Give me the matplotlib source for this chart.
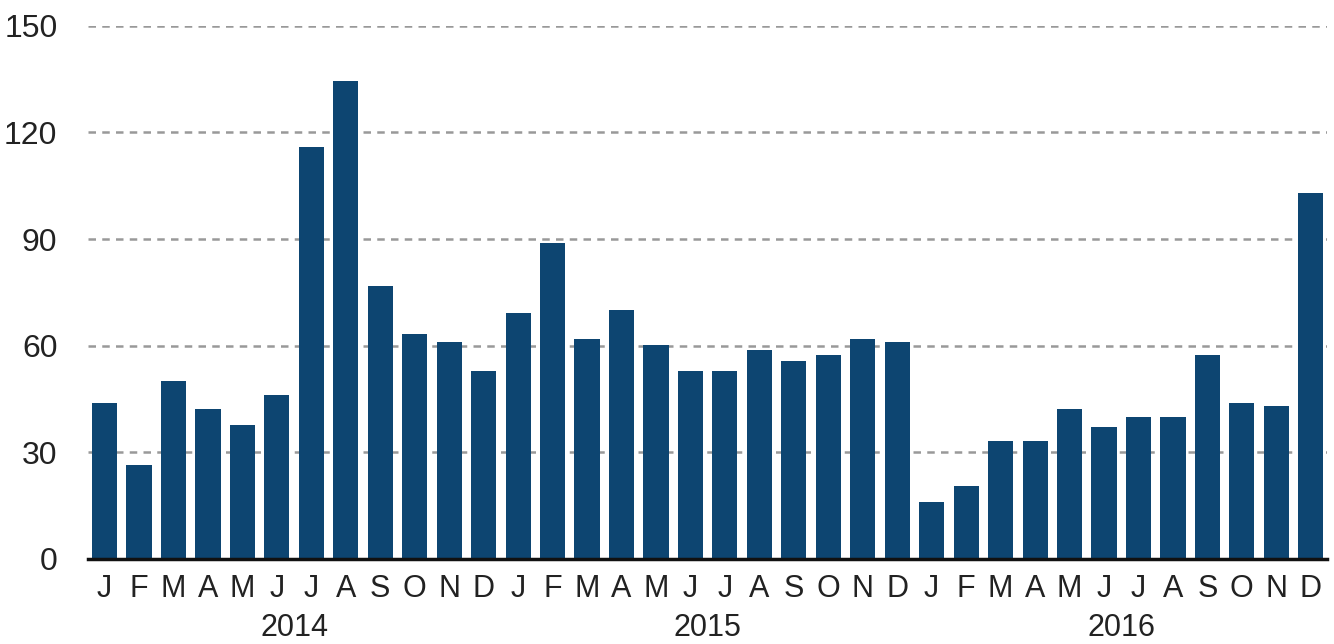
import matplotlib.pyplot as plt

months = ["J", "F", "M", "A", "M", "J", "J", "A", "S", "O", "N", "D"]
years = ["2014", "2015", "2016"]
values = [
    44, 26.5, 50, 42.2, 37.7, 46.2, 116, 134.5, 76.8, 63.3, 61, 52.9,
    69.2, 88.9, 61.9, 70.1, 60.2, 52.9, 52.9, 58.8, 55.7, 57.4, 61.9, 61,
    16, 20.5, 33.2, 33.2, 42.2, 37.2, 40, 40, 57.4, 43.9, 43, 103,
]
yticks = [0, 30, 60, 90, 120, 150]

plt.rcParams['font.family'] = ['Liberation Sans', 'DejaVu Sans']

fig = plt.figure(figsize=(13.34, 6.44), dpi=100)
ax = fig.add_axes([0.066, 0.132, 0.929, 0.828])

x = list(range(len(values)))
ax.bar(x, values, width=0.73, color="#0d4571", zorder=3)

ax.set_ylim(0, 150)
ax.set_xlim(-0.48, len(values) - 0.52)
ax.set_yticks(yticks)
ax.set_yticklabels([str(t) for t in yticks], fontsize=23, color="#222222")
ax.yaxis.grid(True, linestyle=(0, (3, 2.5)), color="#999999", linewidth=1.8, zorder=0)
ax.tick_params(axis="y", length=0, pad=22)

ax.set_xticks(x)
ax.set_xticklabels(months * len(years), fontsize=22, color="#222222")
ax.tick_params(axis="x", length=0, pad=11)

for s in ["top", "right", "left"]:
    ax.spines[s].set_visible(False)
ax.spines["bottom"].set_linewidth(2.5)
ax.spines["bottom"].set_color("#111111")
ax.spines["bottom"].set_zorder(4)

# year labels centered under each group of 12 months
for i, yr in enumerate(years):
    ax.text(i * 12 + 5.5, -0.102, yr, transform=ax.get_xaxis_transform(),
            ha="center", va="top", fontsize=22, color="#222222")

fig.savefig("out.png", dpi=100)
